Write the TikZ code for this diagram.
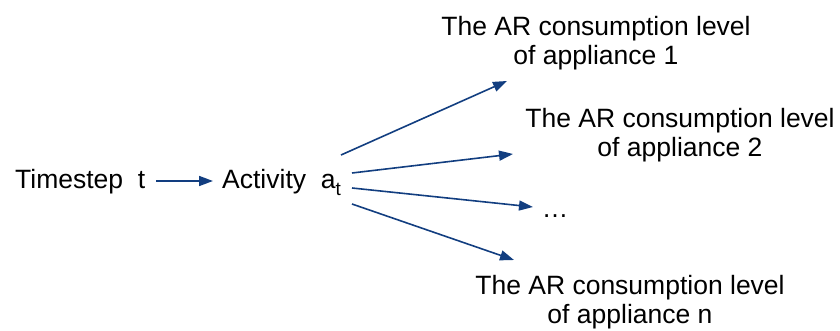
\documentclass[tikz,border=0pt]{standalone}
\usepackage{fontspec}
\setmainfont{Liberation Sans}
\usetikzlibrary{arrows.meta}
\definecolor{arrblue}{RGB}{18,62,128}
\tikzset{
  lbl/.style={font=\fontsize{26.5}{29}\selectfont, align=center, inner sep=0pt, anchor=base},
  conn/.style={draw=arrblue, line width=1.6pt, -{Triangle[length=14pt,width=10pt]}},
}
\begin{document}
\begin{tikzpicture}[x=1pt,y=-1pt]
\useasboundingbox (0,0) rectangle (840,331);
\node[lbl, anchor=base west] (ts) at (15,189) {Timestep\ \ t};
\node[lbl, anchor=base west] (act) at (222,189) {Activity\ \ a{\fontsize{19}{19}\selectfont\raisebox{-6.5pt}{t}}};
\node[lbl] (ap1) at (596,65) {The AR consumption level\\of appliance 1};
\node[lbl] (ap2) at (680,156.5) {The AR consumption level\\of appliance 2};
\node[lbl] (dots) at (555,218) {\dots};
\node[lbl] (apn) at (630,323) {The AR consumption level\\of appliance n};
\coordinate (s1) at (341,155);
\coordinate (s2) at (352,173);
\coordinate (s3) at (352,188);
\coordinate (s4) at (352,204);
\coordinate (e1) at (507,81);
\coordinate (e2) at (513,154);
\coordinate (e3) at (533,207);
\coordinate (e4) at (514,260);
\coordinate (t0) at (156,181);
\coordinate (t1) at (213,181);
\draw[conn] (t0) -- (t1);
\draw[conn] (s1) -- (e1);
\draw[conn] (s2) -- (e2);
\draw[conn] (s3) -- (e3);
\draw[conn] (s4) -- (e4);
\end{tikzpicture}
\end{document}
